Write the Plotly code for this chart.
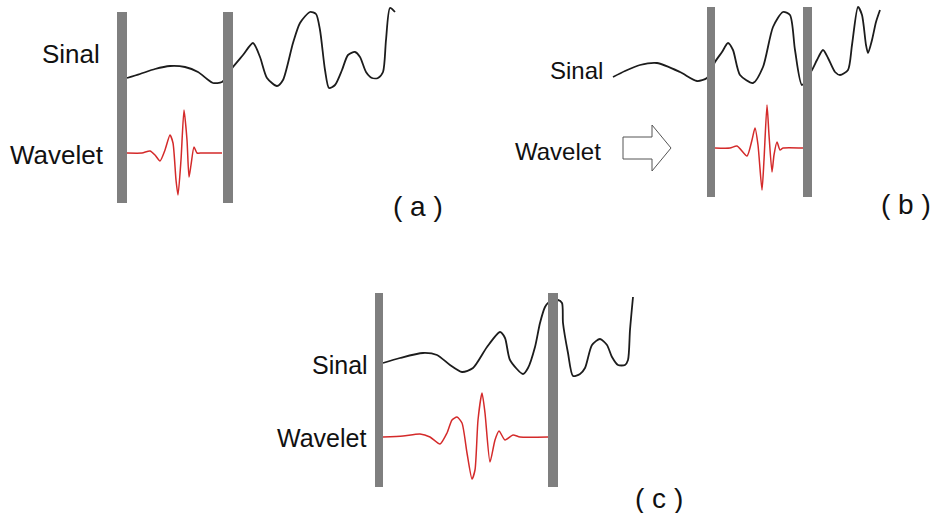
import plotly.graph_objects as go

# ---- panel (a): window at the start of the signal ----
sig_a_x = [127, 140, 155, 170, 185, 198, 207, 213, 222, 233, 243, 253, 260, 267, 277, 283,
           293, 300, 310, 316, 320, 325, 329, 335, 342, 348, 355, 360, 366, 372, 378, 383, 386, 390, 395]
sig_a_y = [78, 74, 69, 66, 67, 72, 79, 83, 82, 67, 55, 43, 57, 78, 86, 80,
           43, 23, 12, 14, 30, 70, 88, 85, 70, 55, 52, 57, 72, 78, 78, 72, 40, 8, 12]
wav_a_x = [127, 142, 150, 155, 160, 165, 170, 173, 176, 178, 181, 184, 187, 189, 191, 194, 197, 202, 222]
wav_a_y = [153, 153, 151, 155, 161, 150, 135, 143, 180, 195, 160, 110, 140, 177, 165, 147, 153, 153, 153]

# ---- panel (b): window translated along the signal ----
sig_b_x = [613, 625, 640, 657, 680, 697, 707, 715, 722, 728, 733, 740, 753, 763, 773, 783, 790, 795, 802,
           812, 817, 823, 828, 835, 840, 848, 852, 858, 862, 866, 868, 872, 876, 880]
sig_b_y = [77, 71, 65, 63, 72, 81, 78, 62, 52, 43, 50, 75, 83, 67, 27, 12, 15, 50, 85,
           70, 60, 50, 58, 72, 75, 70, 45, 7, 15, 45, 53, 40, 22, 10]
wav_b_x = [715, 730, 737, 747, 752, 755, 758, 762, 764, 767, 769, 772, 774, 777, 780, 783, 803]
wav_b_y = [148, 148, 146, 156, 140, 128, 145, 190, 160, 105, 135, 172, 155, 142, 150, 148, 148]

# ---- panel (c): wider window, dilated wavelet ----
sig_c_x = [383, 400, 423, 437, 450, 462, 473, 487, 500, 505, 510, 523, 528, 535, 540, 545, 548,
           558, 562, 563, 568, 573, 580, 585, 592, 600, 607, 612, 618, 625, 628, 630, 633]
sig_c_y = [363, 358, 353, 355, 365, 372, 368, 347, 332, 338, 360, 374, 368, 347, 323, 307, 303,
           300, 303, 323, 353, 376, 374, 368, 345, 339, 345, 357, 365, 365, 360, 330, 297]
wav_c_x = [383, 403, 420, 430, 440, 447, 452, 457, 462, 467, 472, 475, 478, 482, 485, 490,
           495, 499, 505, 513, 520, 548]
wav_c_y = [437, 436, 434, 437, 444, 433, 420, 417, 423, 453, 479, 470, 420, 393, 413, 462,
           440, 431, 440, 435, 437, 437]

# window edges (left bar, right bar) and vertical extent for each panel
win_left = [(117, 127), (707, 715), (375, 383)]
win_right = [(223, 233), (803, 812), (548, 558)]
win_top = [12, 7, 293]
win_bottom = [203, 197, 487]

# outline arrow in panel (b): body x, body y, head base x, head y, tip
arrow_body_x = (623, 652)
arrow_body_y = (137, 159)
arrow_head_y = (125, 171)
arrow_tip = (671, 148)

# text labels: (text, x, y, size)
row_labels = [
    ("Sinal", 40, 54, 26), ("Wavelet", 8, 155, 26),
    ("Sinal", 548, 70, 24), ("Wavelet", 513, 151, 24),
    ("Sinal", 310, 365, 25), ("Wavelet", 275, 438, 25),
]
panel_labels = [("( a )", 391, 206), ("( b )", 879, 204), ("( c )", 633, 498)]

FONT = "Arial, Liberation Sans, sans-serif"
SIG_COLOR = "#1c1c1c"
WAV_COLOR = "#d42a2a"
BAR_COLOR = "#7f7f7f"

fig = go.Figure()

for sx, sy in [(sig_a_x, sig_a_y), (sig_b_x, sig_b_y), (sig_c_x, sig_c_y)]:
    fig.add_trace(go.Scatter(x=sx, y=sy, mode="lines",
                             line=dict(color=SIG_COLOR, width=1.8, shape="spline", smoothing=0.7),
                             hoverinfo="skip"))
for wx, wy in [(wav_a_x, wav_a_y), (wav_b_x, wav_b_y), (wav_c_x, wav_c_y)]:
    fig.add_trace(go.Scatter(x=wx, y=wy, mode="lines",
                             line=dict(color=WAV_COLOR, width=1.5, shape="spline", smoothing=0.6),
                             hoverinfo="skip"))

# gray window bars drawn over the signal
for (l0, l1), (r0, r1), t, b in zip(win_left, win_right, win_top, win_bottom):
    for x0, x1 in [(l0, l1), (r0, r1)]:
        fig.add_shape(type="rect", x0=x0, x1=x1, y0=t, y1=b, xref="x", yref="y",
                      fillcolor=BAR_COLOR, line=dict(width=0), layer="above")

# hollow arrow pointing right
bx0, bx1 = arrow_body_x
by0, by1 = arrow_body_y
hy0, hy1 = arrow_head_y
tx, ty = arrow_tip
path = (f"M {bx0},{by0} L {bx1},{by0} L {bx1},{hy0} L {tx},{ty} L {bx1},{hy1} "
        f"L {bx1},{by1} L {bx0},{by1} Z")
fig.add_shape(type="path", path=path, xref="x", yref="y",
              fillcolor="white", line=dict(color="#555555", width=1))

for text, x, y, size in row_labels:
    fig.add_annotation(x=x, y=y, text=text, xref="x", yref="y", showarrow=False,
                       xanchor="left", yanchor="middle",
                       font=dict(family=FONT, size=size, color="#111111"))
for text, x, y in panel_labels:
    fig.add_annotation(x=x, y=y, text=text, xref="x", yref="y", showarrow=False,
                       xanchor="left", yanchor="middle",
                       font=dict(family=FONT, size=28, color="#111111"))

fig.update_layout(
    width=939, height=513,
    margin=dict(l=0, r=0, t=0, b=0),
    paper_bgcolor="white", plot_bgcolor="white",
    showlegend=False,
    xaxis=dict(range=[0, 939], visible=False, fixedrange=True),
    yaxis=dict(range=[513, 0], visible=False, fixedrange=True),
)

fig.write_html("out.html", config={"displayModeBar": False})
